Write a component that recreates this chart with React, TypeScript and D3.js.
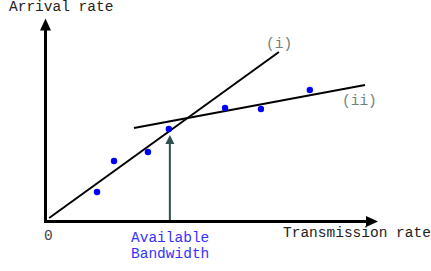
import React from "react";
import * as d3 from "d3";

const pointsX = [1.55, 2.06, 3.08, 3.71, 5.4, 6.48, 7.95];
const pointsY = [1.45, 2.98, 3.42, 4.56, 5.59, 5.54, 6.48];
const lineIX = [0.11, 7.02];
const lineIY = [0.17, 8.35];
const lineIIX = [2.66, 9.61];
const lineIIY = [4.61, 6.72];
const bandwidthX = 3.74;
const bandwidthTipY = 4.26;
const axisMax = 10;

const W = 431;
const H = 271;

export default function App() {
  const x = d3.scaleLinear().domain([0, axisMax]).range([45.5, 378]);
  const y = d3.scaleLinear().domain([0, axisMax]).range([221.5, 18.5]);
  const line = d3
    .line<[number, number]>()
    .x((d) => x(d[0]))
    .y((d) => y(d[1]));
  const lI: [number, number][] = lineIX.map((v, i) => [v, lineIY[i]]);
  const lII: [number, number][] = lineIIX.map((v, i) => [v, lineIIY[i]]);

  const x0 = x(0);
  const y0 = y(0);
  const xEnd = x(axisMax);
  const yEnd = y(axisMax);
  const bx = x(bandwidthX);
  const by = y(bandwidthTipY);

  return (
    <svg
      width={W}
      height={H}
      style={{ position: "absolute", left: 0, top: 0, background: "#fff" }}
    >
      {/* axes */}
      <path d={`M${x0},${y0 + 1.5}V${yEnd + 11}`} stroke="#000" strokeWidth={3} />
      <path d={`M${x0 - 5.5},${yEnd + 12}L${x0},${yEnd}L${x0 + 5.5},${yEnd + 12}Z`} fill="#000" />
      <path d={`M${x0 - 1.5},${y0}H${xEnd - 11}`} stroke="#000" strokeWidth={3} />
      <path d={`M${xEnd - 12},${y0 - 5.5}L${xEnd},${y0}L${xEnd - 12},${y0 + 5.5}Z`} fill="#000" />

      {/* fitted lines */}
      <path d={line(lI) || ""} stroke="#000" strokeWidth={2} fill="none" />
      <path d={line(lII) || ""} stroke="#000" strokeWidth={2} fill="none" />

      {/* available bandwidth arrow */}
      <path d={`M${bx},${y0 - 1.5}V${by + 7}`} stroke="#2f4f4f" strokeWidth={2} />
      <path d={`M${bx - 4.5},${by + 9}L${bx},${by}L${bx + 4.5},${by + 9}Z`} fill="#2f4f4f" />

      {/* points */}
      {pointsX.map((v, i) => (
        <circle key={i} cx={x(v)} cy={y(pointsY[i])} r={3.2} fill="#0000ff" />
      ))}

      {/* texts */}
      <g style={{ fontFamily: "Liberation Mono", fontSize: "14.5px" }}>
        <text x={9} y={11} fill="#222">Arrival rate</text>
        <text x={283} y={237} fill="#222">Transmission rate</text>
        <text x={44} y={240} fill="#444">0</text>
        <text x={131} y={242} fill="#3333ff">Available</text>
        <text x={131} y={258} fill="#3333ff">Bandwidth</text>
        <text x={266} y={48} fill="#708080">(i)</text>
        <text x={342} y={105} fill="#708080">(ii)</text>
      </g>
    </svg>
  );
}
